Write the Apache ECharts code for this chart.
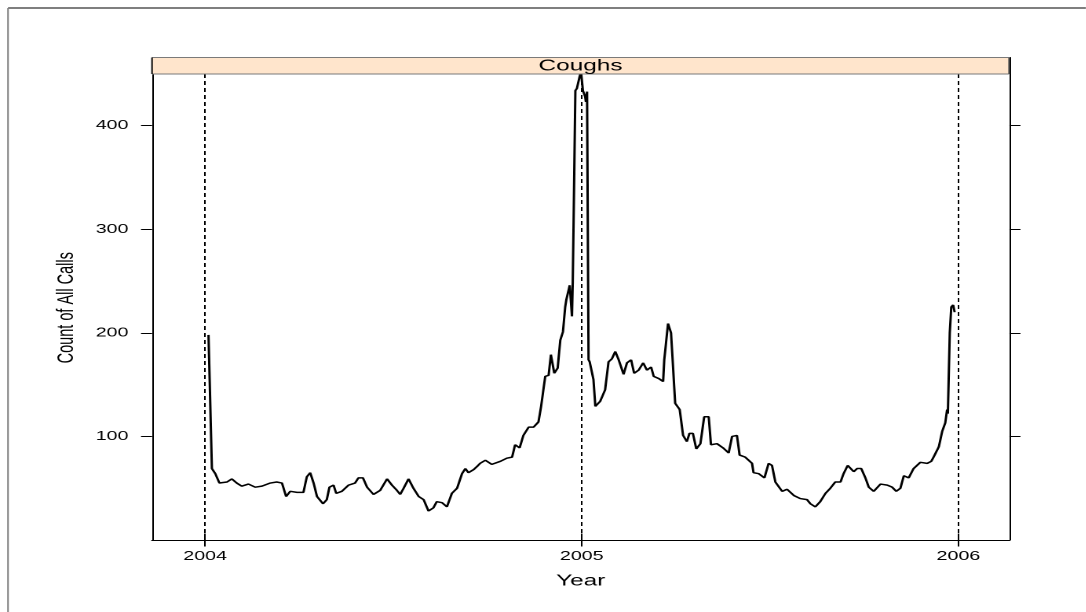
<!DOCTYPE html>
<html>
<head>
<meta charset="utf-8">
<script src="https://cdn.jsdelivr.net/npm/echarts@6/dist/echarts.min.js"></script>
<style>
  html, body { margin: 0; padding: 0; background: #fff; overflow: hidden; width: 1086px; height: 612px; }
  #chart { width: 691.72px; height: 612px; transform: scaleX(1.57); transform-origin: 0 0; }
</style>
</head>
<body>
<div id="chart"></div>
<script>
// Decimal-year positions of the traced observations
const years = [
  2004.009,2004.018,2004.027,2004.038,2004.058,2004.071,2004.084,2004.097,2004.115,2004.133,
  2004.151,2004.173,2004.190,2004.204,2004.215,2004.226,2004.244,2004.261,2004.270,2004.279,
  2004.288,2004.297,2004.313,2004.323,2004.330,2004.341,2004.348,2004.363,2004.381,2004.398,
  2004.407,2004.419,2004.430,2004.447,2004.465,2004.483,2004.496,2004.509,2004.518,2004.527,
  2004.540,2004.553,2004.567,2004.580,2004.593,2004.606,2004.615,2004.629,2004.642,2004.655,
  2004.669,2004.682,2004.691,2004.699,2004.713,2004.722,2004.730,2004.744,2004.761,2004.784,
  2004.801,2004.815,2004.823,2004.835,2004.845,2004.859,2004.872,2004.885,2004.892,2004.903,
  2004.912,2004.918,2004.927,2004.936,2004.943,2004.950,2004.956,2004.959,2004.968,2004.974,
  2004.976,2004.983,2004.987,2004.994,2004.998,2005.003,2005.009,2005.011,2005.014,2005.018,
  2005.021,2005.031,2005.036,2005.049,2005.062,2005.071,2005.080,2005.089,2005.098,2005.111,
  2005.120,2005.131,2005.139,2005.151,2005.163,2005.173,2005.184,2005.191,2005.204,2005.216,
  2005.219,2005.224,2005.229,2005.237,2005.248,2005.260,2005.269,2005.279,2005.286,2005.295,
  2005.304,2005.315,2005.325,2005.337,2005.343,2005.359,2005.375,2005.390,2005.399,2005.412,
  2005.419,2005.434,2005.452,2005.456,2005.470,2005.485,2005.496,2005.505,2005.514,2005.532,
  2005.545,2005.563,2005.580,2005.598,2005.607,2005.620,2005.633,2005.647,2005.660,2005.673,
  2005.687,2005.695,2005.706,2005.722,2005.731,2005.742,2005.753,2005.762,2005.775,2005.793,
  2005.811,2005.824,2005.835,2005.846,2005.855,2005.868,2005.881,2005.899,2005.917,2005.928,
  2005.934,2005.948,2005.957,2005.965,2005.970,2005.972,2005.977,2005.981,2005.986,2005.990
];
// Count of all calls (coughs)
const counts = [
  198,69,64,55,56,59,55,52,54,51,
  52,55,56,55,42,47,46,46,61,65,
  55,42,35,39,51,53,45,47,53,55,
  60,60,51,44,48,59,53,48,44,50,
  59,50,42,39,28,31,37,36,32,45,
  50,64,69,65,68,71,74,77,73,76,
  79,80,92,89,101,109,109,114,129,158,
  159,179,161,166,193,201,225,232,246,216,
  248,434,436,447,452,434,428,423,433,174,
  172,155,129,134,145,172,175,182,174,160,
  171,174,161,164,171,164,167,158,156,153,
  174,175,209,200,132,126,101,95,103,103,
  88,93,119,119,92,93,89,84,100,101,
  82,80,74,65,64,60,74,72,56,47,
  49,43,40,39,35,32,37,45,50,56,
  56,64,72,66,69,69,60,51,47,54,
  53,51,47,50,62,60,69,75,74,76,
  80,90,105,113,126,122,200,225,227,220
];
const yearTicks = [2004, 2005, 2006];
const countTicks = [100, 200, 300, 400];
const refYears = [2004, 2005, 2006];
const panelTitle = 'Coughs';
const xTitle = 'Year';
const yTitle = 'Count of All Calls';

const FONT = '"Liberation Sans", Arial, Helvetica, sans-serif';
const W = 1086 / 1.57;
const GL = 96.82, GR = 642.68, GT = 57.5, GB = 540, STRIP_B = 74;

const chart = echarts.init(document.getElementById('chart'), null, { renderer: 'canvas', devicePixelRatio: 2 });

const axisLine = { show: true, lineStyle: { color: '#000', width: 1 } };
const option = {
  animation: false,
  backgroundColor: '#fff',
  grid: { left: GL, right: W - GR, top: GT, bottom: 612 - GB, containLabel: false },
  xAxis: [
    {
      type: 'value', position: 'bottom', min: 2003.859, max: 2006.1355,
      axisLine: axisLine,
      axisTick: { show: true, inside: false, length: 6.5, customValues: yearTicks, lineStyle: { color: '#000', width: 1 } },
      axisLabel: { show: true, customValues: yearTicks, formatter: v => String(v), margin: 10, fontSize: 12.5, color: '#000', fontFamily: FONT },
      splitLine: { show: false },
      name: xTitle, nameLocation: 'middle', nameGap: 33, nameMoveOverlap: false,
      nameTextStyle: { fontSize: 15.5, color: '#000', fontFamily: FONT }
    },
    {
      type: 'value', position: 'top', min: 2003.859, max: 2006.1355,
      axisLine: axisLine,
      axisTick: { show: true, inside: false, length: 6.5, customValues: yearTicks, lineStyle: { color: '#000', width: 1 } },
      axisLabel: { show: false },
      splitLine: { show: false }
    }
  ],
  yAxis: [
    {
      type: 'value', position: 'left', min: 0, max: 465.9,
      axisLine: axisLine,
      axisTick: { show: true, inside: false, length: 7, customValues: countTicks, lineStyle: { color: '#000', width: 1 } },
      axisLabel: { show: true, customValues: countTicks, formatter: v => String(v), margin: 15, fontSize: 12.5, color: '#000', fontFamily: FONT },
      splitLine: { show: false },
      name: yTitle, nameLocation: 'middle', nameGap: 47, nameMoveOverlap: false,
      nameTextStyle: { fontSize: 14.5, color: '#000', fontFamily: FONT, padding: [0, 18, 0, 0] }
    },
    {
      type: 'value', position: 'right', min: 0, max: 465.9,
      axisLine: axisLine,
      axisTick: { show: true, inside: false, length: 7, customValues: countTicks, lineStyle: { color: '#000', width: 1 } },
      axisLabel: { show: false },
      splitLine: { show: false }
    }
  ],
  series: [
    {
      type: 'line',
      xAxisIndex: 0, yAxisIndex: 0,
      data: years.map((y, i) => [y, counts[i]]),
      showSymbol: false, symbol: 'none',
      lineStyle: { color: '#000', width: 1.5 },
      clip: true,
      silent: true,
      markLine: {
        silent: true,
        symbol: ['none', 'none'],
        label: { show: false },
        lineStyle: { color: '#000', width: 1, type: [4, 3] },
        data: refYears.map(y => ({ xAxis: y }))
      }
    }
  ],
  graphic: [
    { type: 'rect', z: 100, shape: { x: GL, y: GT, width: GR - GL, height: STRIP_B - GT }, style: { fill: '#FFE5CC', stroke: null } },
    { type: 'line', z: 101, shape: { x1: GL, y1: GT, x2: GR, y2: GT }, style: { stroke: '#7a7a7a', lineWidth: 1 } },
    { type: 'line', z: 101, shape: { x1: GL, y1: STRIP_B, x2: GR, y2: STRIP_B }, style: { stroke: '#7a7a7a', lineWidth: 1 } },
    { type: 'line', z: 101, shape: { x1: GL, y1: GT, x2: GL, y2: STRIP_B }, style: { stroke: '#000', lineWidth: 1 } },
    { type: 'line', z: 101, shape: { x1: GR, y1: GT, x2: GR, y2: STRIP_B }, style: { stroke: '#555', lineWidth: 1 } },
    { type: 'text', z: 102, style: { text: panelTitle, x: (GL + GR) / 2, y: (GT + STRIP_B) / 2 + 0.5, textAlign: 'center', textVerticalAlign: 'middle', font: '15.5px ' + FONT, fill: '#000' } },
    { type: 'line', z: 101, shape: { x1: 5.1, y1: 8, x2: W, y2: 8 }, style: { stroke: '#000', lineWidth: 1 } },
    { type: 'line', z: 101, shape: { x1: 5.1, y1: 8, x2: 5.1, y2: 612 }, style: { stroke: '#808080', lineWidth: 1 } }
  ]
};
chart.setOption(option);
</script>
</body>
</html>
